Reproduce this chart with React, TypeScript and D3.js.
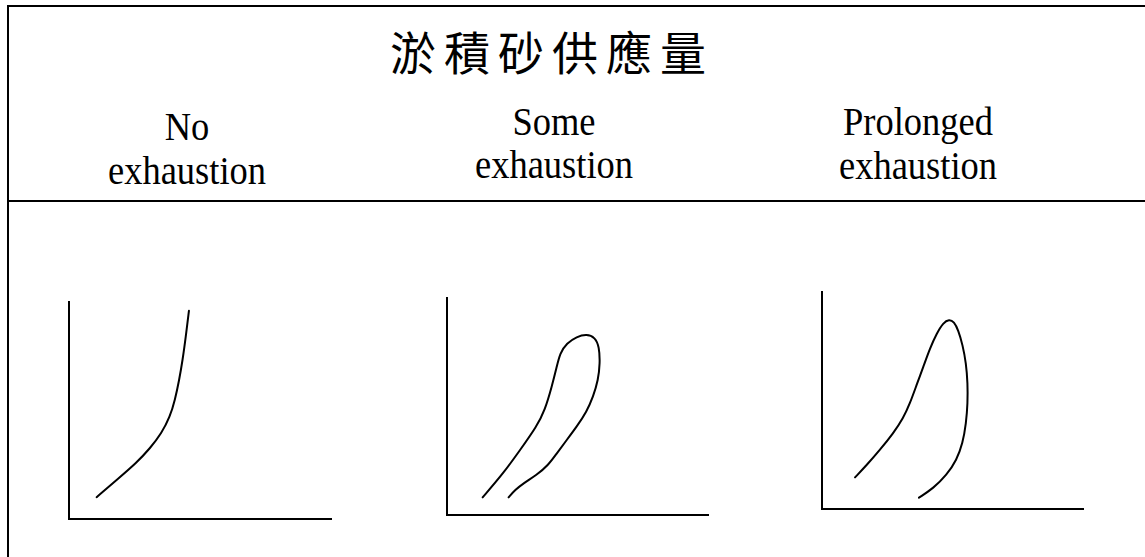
import React from "react";
import * as d3 from "d3";

const title = "淤積砂供應量";
const headerLines: string[][] = [
  ["No", "exhaustion"],
  ["Some", "exhaustion"],
  ["Prolonged", "exhaustion"],
];

// Curves in normalized units (0-100 on each small axis box)
const noExhaustion: [number, number][] = [
  [10.5, 10.0], [18.1, 17.9], [25.7, 25.8], [30.8, 32.4], [35.2, 39.3],
  [38.4, 46.9], [40.3, 54.6], [41.9, 63.8], [43.2, 72.9], [44.4, 83.6],
  [45.6, 95.5],
];
const someExhaustion: [number, number][] = [
  [13.6, 8.1], [21.5, 19.1], [27.9, 29.8], [34.2, 40.5], [37.4, 48.2],
  [40.0, 58.9], [41.9, 68.0], [43.1, 74.2], [45.7, 78.8], [49.5, 81.8],
  [53.3, 83.0], [56.5, 81.5], [58.1, 77.2], [58.4, 69.6], [57.7, 61.9],
  [55.8, 54.3], [53.3, 47.4], [49.5, 40.5], [45.7, 34.4], [41.9, 28.3],
  [38.7, 22.9], [34.2, 18.3], [29.1, 14.5], [26.0, 11.5], [23.5, 8.1],
];
const prolongedExhaustion: [number, number][] = [
  [12.6, 14.5], [17.1, 20.2], [22.1, 27.1], [27.2, 34.7], [31.0, 41.6],
  [33.6, 48.5], [36.1, 56.9], [38.7, 65.3], [41.2, 73.7], [43.8, 80.6],
  [46.3, 85.5], [48.5, 87.0], [50.4, 85.9], [52.0, 82.1], [53.7, 75.2],
  [55.0, 66.8], [55.6, 57.7], [55.6, 48.5], [55.0, 39.3], [53.7, 30.1],
  [51.4, 22.5], [47.6, 15.6], [42.5, 9.5], [37.0, 5.2],
];
const curves = [noExhaustion, someExhaustion, prolongedExhaustion];

const W = 1145;
const H = 557;

const panels = [
  { x0: 69, y0: 519, w: 263, h: 218, headerX: 187, b1: 140, b2: 184 },
  { x0: 447, y0: 515, w: 262, h: 218, headerX: 554, b1: 135, b2: 178 },
  { x0: 822, y0: 509, w: 262, h: 218, headerX: 918, b1: 135, b2: 179 },
];

export default function App() {
  return (
    <svg
      width={W}
      height={H}
      style={{ position: "absolute", left: 0, top: 0, background: "#fff" }}
    >
      <rect x={0} y={0} width={W} height={H} fill="#fff" />
      <rect x={8} y={6} width={W + 20} height={H + 20} fill="none" stroke="#000" strokeWidth={2} />
      <line x1={8} x2={W} y1={201} y2={201} stroke="#000" strokeWidth={2} />
      <text
        x={390}
        y={70}
        fontFamily="'Noto Sans CJK TC', 'Noto Sans CJK SC', sans-serif"
        fontSize={46}
        letterSpacing={8}
        fontWeight={400}
        fill="#000"
      >
        {title}
      </text>
      {panels.map((p, i) => {
        const xs = d3.scaleLinear().domain([0, 100]).range([p.x0, p.x0 + p.w]);
        const ys = d3.scaleLinear().domain([0, 100]).range([p.y0, p.y0 - p.h]);
        const line = d3
          .line<[number, number]>()
          .x((d) => xs(d[0]))
          .y((d) => ys(d[1]))
          .curve(d3.curveBasis);
        return (
          <g key={i}>
            {headerLines[i].map((t, j) => (
              <text
                key={j}
                transform={`translate(${p.headerX},${j === 0 ? p.b1 : p.b2}) scale(1,1.12)`}
                textAnchor="middle"
                fontFamily="'Liberation Serif', 'Times New Roman', serif"
                fontSize={36.5}
                fill="#000"
              >
                {t}
              </text>
            ))}
            <path
              d={`M${xs(0)},${ys(100)}V${ys(0)}H${xs(100)}`}
              fill="none"
              stroke="#000"
              strokeWidth={2}
            />
            <path d={line(curves[i]) || ""} fill="none" stroke="#000" strokeWidth={2} strokeLinecap="round" />
          </g>
        );
      })}
    </svg>
  );
}
